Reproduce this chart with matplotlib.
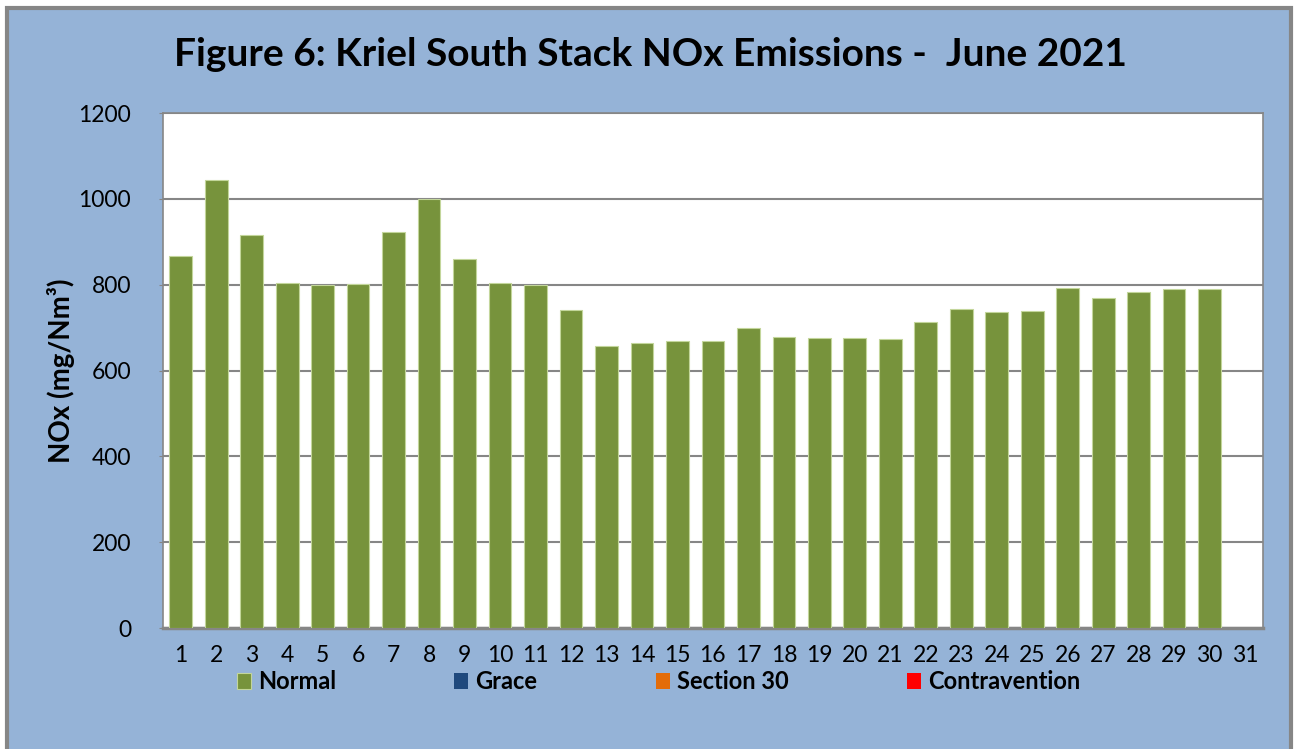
import matplotlib
matplotlib.use("Agg")
import matplotlib.pyplot as plt
import numpy as np
from matplotlib.patches import Rectangle

plt.rcParams['font.family'] = ['Lato', 'DejaVu Sans']

# adatok
days = [str(d) for d in range(1, 32)]
normal = [868, 1044, 915, 805, 800, 801, 922, 999, 861, 803,
          800, 740, 657, 664, 668, 668, 699, 679, 675, 675,
          674, 712, 743, 736, 738, 793, 768, 782, 789, 789, np.nan]
grace = [0] * 31
section30 = [0] * 31
contravention = [0] * 31
yticks = [0, 200, 400, 600, 800, 1000, 1200]

bg = '#95B3D7'
fig = plt.figure(figsize=(13, 7.49), dpi=100, facecolor='white')
fig.patches.append(Rectangle((0.005, -0.01), 0.988, 0.999, transform=fig.transFigure,
                             facecolor=bg, edgecolor='#868686', linewidth=3, zorder=-1))

ax = fig.add_axes([0.1254, 0.1615, 0.846, 0.6876])
ax.set_facecolor('white')
x = np.arange(len(days))
b1 = ax.bar(x, normal, width=0.64, color='#77933C', edgecolor='#C3D69B', linewidth=0.8,
            label='Normal', zorder=3)
b2 = ax.bar(x, grace, width=0.64, color='#1F497D', linewidth=0, label='Grace', zorder=3)
b3 = ax.bar(x, section30, width=0.64, color='#E36C09', linewidth=0, label='Section 30', zorder=3)
b4 = ax.bar(x, contravention, width=0.64, color='#FF0000', linewidth=0, label='Contravention', zorder=3)

ax.set_xlim(-0.5, 30.5)
ax.set_ylim(0, 1200)
ax.set_yticks(yticks)
ax.set_xticks(x)
ax.set_xticklabels(days)
ax.tick_params(axis='y', length=3, color='#868686', pad=20, labelsize=16.5)
ax.tick_params(axis='x', length=0, pad=12, labelsize=16.5)
ax.yaxis.grid(True, color='#868686', linewidth=1.5, zorder=0)
for s in ax.spines.values():
    s.set_color('#868686')
    s.set_linewidth(1.2)
ax.spines['bottom'].set_linewidth(2.5)

ax.set_ylabel('NOx (mg/Nm³)', fontsize=20, fontweight='bold')
ax.yaxis.set_label_coords(-0.08, 0.5)
fig.suptitle('Figure 6: Kriel South Stack NOx Emissions -  June 2021', x=0.5, y=0.927,
             va='center', fontsize=28, fontweight='bold')

fig.legend(handles=[b1, b2, b3, b4], loc='center', bbox_to_anchor=(0.5065, 0.0895), ncol=4,
           frameon=False, handlelength=0.6, handleheight=0.64, handletextpad=0.3,
           columnspacing=5.0, prop={'weight': 'bold', 'size': 17})

fig.savefig('out.png', dpi=100, facecolor=fig.get_facecolor())
